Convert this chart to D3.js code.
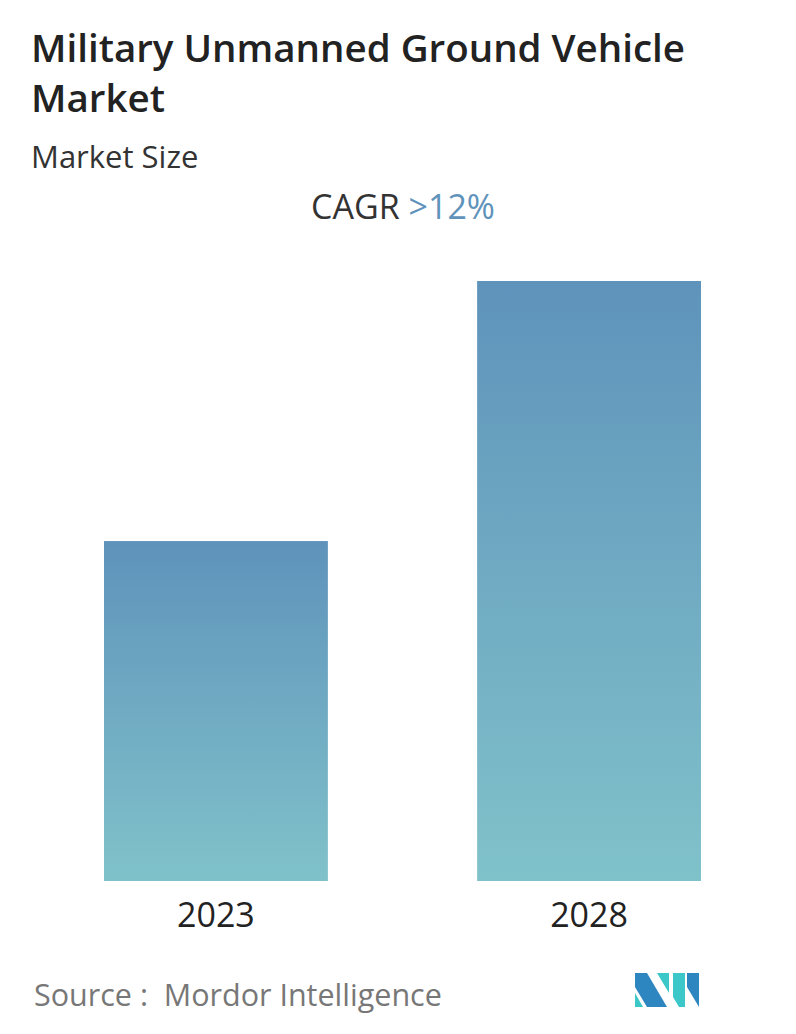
<!DOCTYPE html>
<html><head><meta charset="utf-8">
<script src="https://cdn.jsdelivr.net/npm/d3@7"></script>
<style>body{margin:0;background:#fff}svg{display:block}</style>
</head><body>
<script>
const categories = ["2023", "2028"];
const values = [1.0, 1.765];
const titleLines = ["Military Unmanned Ground Vehicle", "Market"];

const W = 796, H = 1034;
const svg = d3.select("body").append("svg").attr("width", W).attr("height", H);
const font = "'Open Sans', 'Noto Sans', sans-serif";

const defs = svg.append("defs");
const g = defs.append("linearGradient").attr("id","bg").attr("x1",0).attr("x2",0).attr("y1",0).attr("y2",1);
g.append("stop").attr("offset","0%").attr("stop-color","#5f93bb");
g.append("stop").attr("offset","100%").attr("stop-color","#80c2ca");

svg.selectAll("text.title").data(titleLines).enter().append("text")
  .attr("x", 31).attr("y",(d,i)=>62+i*50).text(d=>d)
  .attr("font-family",font).attr("font-weight",600).attr("font-size",38.5).attr("fill","#222");
svg.append("text").attr("x",31).attr("y",168).text("Market Size")
  .attr("font-family",font).attr("font-size",31).attr("fill","#333");
const c = svg.append("text").attr("x",403).attr("y",219).attr("text-anchor","middle")
  .attr("font-family",font).attr("font-size",34);
c.append("tspan").attr("fill","#333").text("CAGR ");
c.append("tspan").attr("fill","#5f93bb").text(">12%");

const band = d3.scaleBand().domain(categories).range([104, 701]).paddingInner(0.4).paddingOuter(0);
const y = d3.scaleLinear().domain([0, values[1]]).range([881, 281]);

svg.selectAll("rect.bar").data(categories).enter().append("rect")
  .attr("x", d=>band(d)).attr("width", band.bandwidth())
  .attr("y",(d,i)=>y(values[i])).attr("height",(d,i)=>881-y(values[i]))
  .attr("fill","url(#bg)");
svg.selectAll("text.cat").data(categories).enter().append("text")
  .attr("x",d=>band(d)+band.bandwidth()/2).attr("y",927).attr("text-anchor","middle")
  .text(d=>d).attr("font-family",font).attr("font-size",34).attr("fill","#222");

svg.append("text").attr("x",34).attr("y",1006).text("Source :\u00a0\u00a0Mordor Intelligence")
  .attr("font-family",font).attr("font-size",30.5).attr("fill","#777");

const lg = svg.append("g").attr("transform","translate(635,973)");
lg.append("polygon").attr("points","0,0 12,0 32,34 12,34 0,14").attr("fill","#2e86c1");
lg.append("polygon").attr("points","0,20 8,34 0,34").attr("fill","#3cc8c8");
lg.append("polygon").attr("points","22,0 34,0 34,20").attr("fill","#3cc8c8");
lg.append("polygon").attr("points","38,0 50,0 50,34 44,34 38,24").attr("fill","#3cc8c8");
lg.append("polygon").attr("points","52,0 64,0 64,34 52,14").attr("fill","#2e86c1");
</script>
</body></html>
